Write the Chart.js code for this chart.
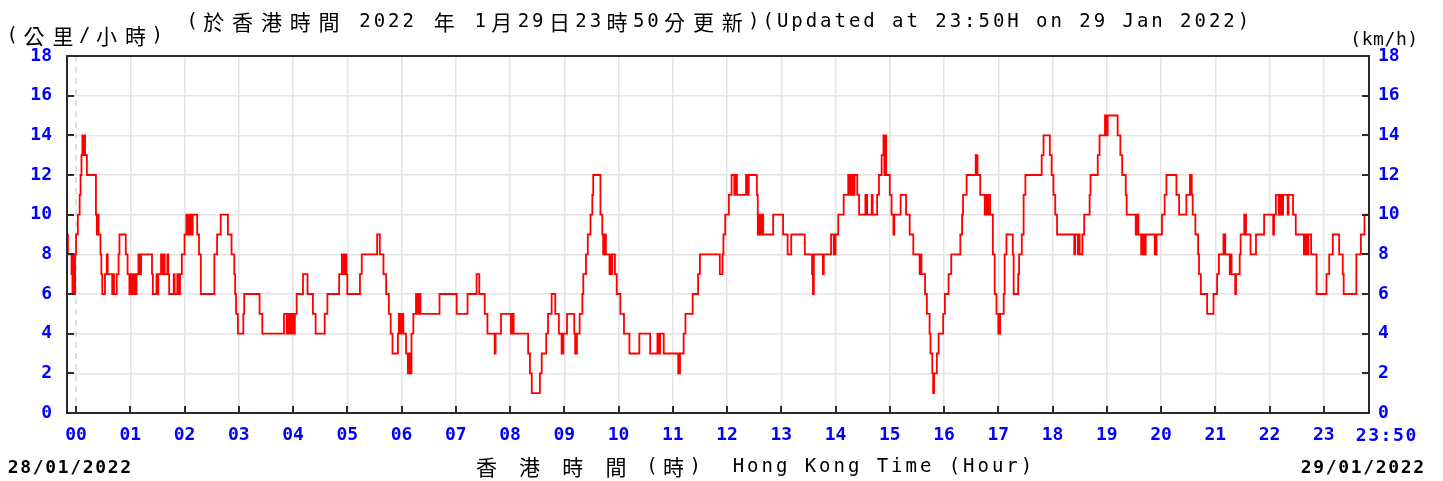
<!DOCTYPE html>
<html>
<head>
<meta charset="utf-8">
<script src="https://cdn.jsdelivr.net/npm/chart.js@4.4.1/dist/chart.umd.min.js"></script>
<style>
  html, body { margin: 0; padding: 0; background: #fff; }
  canvas { display: block; }
</style>
</head>
<body>
<canvas id="wind" width="1443" height="481"></canvas>
<script>
// 10-minute mean wind speed (km/h): minute of day at which the reading changes, and the new value
const minutes = [
  -10, -9, -5, -4, -3, -2, -1, 0, 2, 4, 5, 6, 7, 8, 9, 10, 12, 22, 23, 24, 25, 27, 28, 29, 32, 34, 35, 40, 41, 42, 45, 47, 48, 55, 57, 59, 60, 62, 64, 66, 67, 69, 71, 72, 84, 85, 89, 90, 91, 94, 95, 96, 98,
  101, 102, 103, 108, 109, 112, 113, 115, 117, 120, 122, 124, 125, 127, 129, 134, 136, 138, 153, 156, 160, 168, 172, 175, 176, 177, 179, 185, 186,
  203, 206, 230, 233, 235, 237, 239, 241, 242, 244, 251, 256, 262, 265, 275, 278, 291, 294, 296, 297, 299, 300,
  314, 316, 333, 336, 340, 343, 346, 348, 350, 356, 357, 359, 360, 362, 365, 367, 368, 369, 371, 373, 376, 378, 379, 381,
  402, 421, 433, 443, 446, 452, 455, 463, 464, 470, 481, 483, 484, 500, 502, 504, 513, 515, 520, 522, 526, 530, 534, 537, 539, 543,
  551, 552, 554, 557, 560, 561, 564, 566, 569, 571, 572, 580, 582, 583, 584, 586, 590, 591, 592, 593, 596, 598,
  602, 606, 612, 623, 635, 643, 645, 646, 650, 666, 668, 672, 674, 682, 688, 690,
  712, 715, 716, 718, 722, 725, 728, 730, 731, 741, 743, 744, 753, 754, 756, 758, 759, 760, 771, 782, 787, 791,
  806, 814, 815, 816, 826, 827, 835, 838, 840, 843, 849, 854, 856, 857, 859, 861, 864, 866, 873, 875, 880, 881, 886, 888, 891, 893, 894, 895, 896,
  900, 902, 904, 905, 912, 918, 922, 926, 933, 934, 935, 939, 941, 944, 945, 947, 948, 949, 952, 954, 959, 961, 965, 968, 978, 980, 981, 985, 995, 997,
  1000, 1005, 1007, 1008, 1010, 1011, 1014, 1016, 1018, 1020, 1022, 1026, 1027, 1029, 1036, 1037, 1042, 1043, 1046, 1048, 1050, 1068, 1070, 1077, 1079, 1081, 1083, 1085,
  1104, 1105, 1108, 1109, 1110, 1113, 1115, 1121, 1122, 1130, 1132, 1138, 1140, 1141, 1152, 1155, 1157, 1161, 1162, 1172, 1174, 1175, 1178, 1180, 1181, 1183, 1193, 1195,
  1201, 1204, 1206, 1217, 1220, 1228, 1232, 1234, 1235, 1238, 1241, 1242, 1244, 1251, 1258, 1262, 1264, 1269, 1271, 1276, 1277, 1278, 1282, 1283, 1287, 1288, 1292, 1294, 1299,
  1305, 1314, 1324, 1325, 1327, 1330, 1332, 1334, 1335, 1340, 1341, 1346, 1349, 1358, 1360, 1362, 1363, 1366, 1372, 1383, 1386, 1390, 1397, 1401, 1402, 1416, 1421, 1425, 1430,
];
const speeds = [
  9, 8, 7, 6, 8, 6, 8, 9, 10, 11, 12, 13, 14, 13, 14, 13, 12, 10, 9, 10, 9, 8, 7, 6, 7, 8, 7, 6, 7, 6, 7, 8, 9, 8, 7, 6, 7, 6, 7, 6, 7, 8, 7, 8, 7, 6, 7, 6, 7, 8, 7, 8, 7,
  8, 7, 6, 7, 6, 7, 6, 7, 8, 9, 10, 9, 10, 9, 10, 9, 8, 6, 8, 9, 10, 9, 8, 7, 6, 5, 4, 5, 6,
  5, 4, 5, 4, 5, 4, 5, 4, 5, 6, 7, 6, 5, 4, 5, 6, 7, 8, 7, 8, 7, 6,
  7, 8, 9, 8, 7, 6, 5, 4, 3, 4, 5, 4, 5, 4, 3, 2, 3, 2, 4, 5, 6, 5, 6, 5,
  6, 5, 6, 7, 6, 5, 4, 3, 4, 5, 4, 5, 4, 3, 2, 1, 2, 3, 4, 5, 6, 5, 4, 3, 4, 5,
  4, 3, 4, 5, 6, 7, 8, 9, 10, 11, 12, 10, 9, 8, 9, 8, 7, 8, 7, 8, 7, 6,
  5, 4, 3, 4, 3, 4, 3, 4, 3, 2, 3, 4, 5, 6, 7, 8,
  7, 8, 9, 10, 11, 12, 11, 12, 11, 12, 11, 12, 11, 9, 10, 9, 10, 9, 10, 9, 8, 9,
  8, 7, 6, 8, 7, 8, 9, 8, 9, 10, 11, 12, 11, 12, 11, 12, 11, 10, 11, 10, 11, 10, 11, 12, 13, 14, 12, 14, 12,
  11, 10, 9, 10, 11, 10, 9, 8, 7, 8, 7, 6, 5, 4, 3, 2, 1, 2, 3, 4, 5, 6, 7, 8, 9, 10, 11, 12, 13, 12,
  11, 10, 11, 10, 11, 10, 8, 6, 5, 4, 5, 6, 8, 9, 8, 6, 7, 8, 9, 11, 12, 13, 14, 13, 12, 11, 10, 9,
  8, 9, 8, 9, 8, 9, 10, 11, 12, 13, 14, 15, 14, 15, 14, 13, 12, 11, 10, 9, 10, 9, 8, 9, 8, 9, 8, 9,
  10, 11, 12, 11, 10, 11, 12, 11, 10, 9, 8, 7, 6, 5, 6, 7, 8, 9, 8, 7, 8, 7, 6, 7, 8, 9, 10, 9, 8,
  9, 10, 9, 10, 11, 10, 11, 10, 11, 10, 11, 10, 9, 8, 9, 8, 9, 8, 6, 7, 8, 9, 8, 7, 6, 8, 9, 10, 10,
];

const hourLabels = ['00', '01', '02', '03', '04', '05', '06', '07', '08', '09', '10', '11',
  '12', '13', '14', '15', '16', '17', '18', '19', '20', '21', '22', '23'];
const endLabel = '23:50';
const startDate = '28/01/2022';
const endDate = '29/01/2022';

const TICK_BLUE = '#0000ff';
const GRID_GREY = '#e4e4e4';
const MONO = '"DejaVu Sans Mono", monospace';
const CJK = '"Noto Sans CJK TC", "Noto Sans CJK SC", sans-serif';

// terminal-style text: every ASCII char takes one cell, every CJK char two
function cellText(ctx, text, x0, y, cell, opts) {
  const { size = 19, cjkSize = 21, weight = 'normal', color = '#000' } = opts || {};
  ctx.save();
  ctx.fillStyle = color;
  ctx.textAlign = 'center';
  ctx.textBaseline = 'middle';
  let x = x0;
  for (const ch of text) {
    const wide = /[\u2e80-\u9fff\uff00-\uffef]/.test(ch);
    const w = wide ? cell * 2 : cell;
    ctx.font = wide ? `${cjkSize}px ${CJK}` : `${weight} ${size}px ${MONO}`;
    if (ch !== ' ') ctx.fillText(ch, x + w / 2, y);
    x += w;
  }
  ctx.restore();
}

const framePlugin = {
  id: 'frame',
  beforeDatasetsDraw(chart) {
    const { ctx, chartArea: a, scales: { x } } = chart;
    const px = x.getPixelForValue(0);
    ctx.save();
    ctx.strokeStyle = '#d6d6d6';
    ctx.lineWidth = 1.5;
    ctx.setLineDash([6, 5]);
    ctx.beginPath();
    ctx.moveTo(px, a.top);
    ctx.lineTo(px, a.bottom);
    ctx.stroke();
    ctx.restore();
  },
  afterDraw(chart) {
    const { ctx, chartArea: a, scales: { x, y } } = chart;
    ctx.save();
    ctx.strokeStyle = '#2a2a2a';
    ctx.lineWidth = 2;
    ctx.strokeRect(a.left, a.top, a.right - a.left, a.bottom - a.top);

    // inward tick marks on the frame
    ctx.beginPath();
    x.ticks.forEach(t => {
      const px = Math.round(x.getPixelForValue(t.value));
      ctx.moveTo(px, a.bottom);
      ctx.lineTo(px, a.bottom - 7);
    });
    y.ticks.forEach(t => {
      const py = Math.round(y.getPixelForValue(t.value));
      ctx.moveTo(a.left, py);
      ctx.lineTo(a.left + 7, py);
      ctx.moveTo(a.right, py);
      ctx.lineTo(a.right - 7, py);
    });
    ctx.stroke();
    ctx.restore();

    cellText(ctx, '(於香港時間 2022 年 1月29日23時50分更新)(Updated at 23:50H on 29 Jan 2022)', 185, 22, 14.4);
    cellText(ctx, '(公里/小時)', 5, 36, 14.5);
    cellText(ctx, '(km/h)', 1350, 40, 11.4, { size: 18 });
    cellText(ctx, '香 港 時 間 (時)  Hong Kong Time (Hour)', 472, 467, 14.4);
    cellText(ctx, startDate, 7, 468, 12.5, { size: 18, weight: 'bold' });
    cellText(ctx, endDate, 1300, 468, 12.5, { size: 18, weight: 'bold' });
    cellText(ctx, endLabel, 1355, 436, 12.4, { size: 18, weight: 'bold', color: TICK_BLUE });
  },
};

const tickFont = { family: MONO, size: 18, weight: 'bold' };

new Chart(document.getElementById('wind'), {
  type: 'line',
  data: {
    datasets: [{
      data: minutes.map((m, i) => ({ x: m, y: speeds[i] })),
      borderColor: '#ff0000',
      borderWidth: 1.8,
      stepped: true,
      pointRadius: 0,
      fill: false,
    }],
  },
  options: {
    responsive: false,
    animation: false,
    devicePixelRatio: 1,
    layout: { padding: { top: 56, left: 0, right: 0, bottom: 0 } },
    plugins: { legend: { display: false }, tooltip: { enabled: false } },
    scales: {
      x: {
        type: 'linear',
        min: -10,
        max: 1430,
        afterBuildTicks: scale => { scale.ticks = hourLabels.map((_, i) => ({ value: i * 60 })); },
        afterFit: scale => { scale.height = 68; },
        ticks: {
          autoSkip: false,
          maxRotation: 0,
          minRotation: 0,
          padding: 12,
          color: TICK_BLUE,
          font: tickFont,
          callback: (value, index) => hourLabels[index],
        },
        grid: {
          drawTicks: false,
          lineWidth: 1.5,
          color: c => (c.tick && c.tick.value === 0 ? 'rgba(0,0,0,0)' : GRID_GREY),
        },
        border: { display: false },
      },
      y: {
        position: 'left',
        min: 0,
        max: 18,
        afterFit: scale => { scale.width = 67; },
        ticks: { stepSize: 2, padding: 15, color: TICK_BLUE, font: tickFont },
        grid: { drawTicks: false, lineWidth: 1.5, color: GRID_GREY },
        border: { display: false },
      },
      y2: {
        position: 'right',
        min: 0,
        max: 18,
        afterFit: scale => { scale.width = 74; },
        ticks: { stepSize: 2, padding: 9, color: TICK_BLUE, font: tickFont },
        grid: { display: false, drawTicks: false },
        border: { display: false },
      },
    },
  },
  plugins: [framePlugin],
});
</script>
</body>
</html>
